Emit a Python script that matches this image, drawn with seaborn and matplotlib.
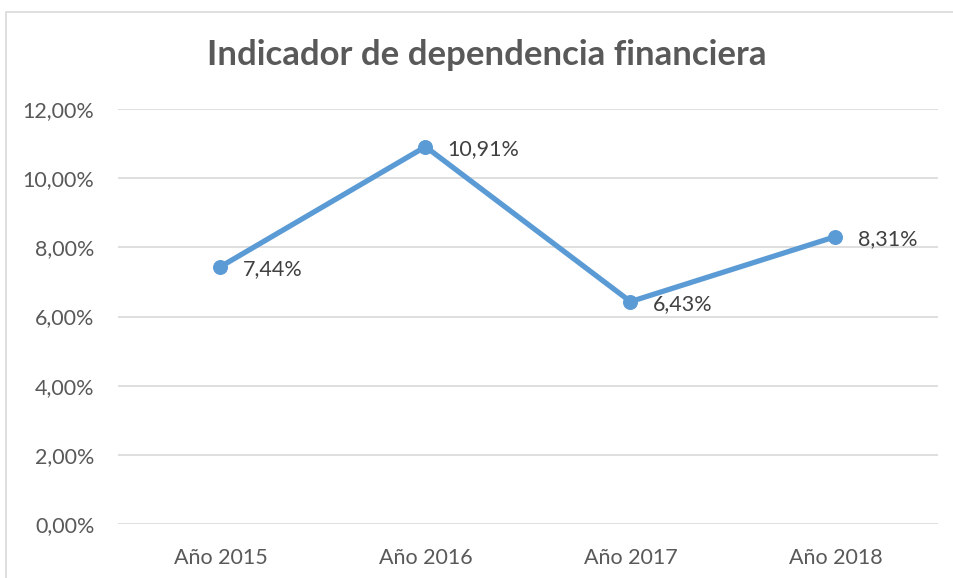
import matplotlib
matplotlib.use("Agg")
import matplotlib.pyplot as plt
from matplotlib.patches import Rectangle
from matplotlib.ticker import FuncFormatter
import seaborn as sns
import pandas as pd

# chart data
years = ["Año 2015", "Año 2016", "Año 2017", "Año 2018"]
ratios = [0.0744, 0.1091, 0.0643, 0.0831]
y_ticks = [0.0, 0.02, 0.04, 0.06, 0.08, 0.10, 0.12]

df = pd.DataFrame({"anio": years, "valor": ratios})

sns.set_theme(style="white")
plt.rcParams["font.family"] = ["Lato", "DejaVu Sans"]

W, H = 954, 578
fig = plt.figure(figsize=(W / 100, H / 100), dpi=100)
ax = fig.add_axes([118 / W, 1 - 524 / H, 820 / W, 415 / H])

# outer chart border (partly cut off in the original screenshot)
fig.patches.append(Rectangle((6.5 / W, -0.1), 2, 1 - 11.5 / H + 0.1, transform=fig.transFigure,
                             fill=False, edgecolor="#D9D9D9", linewidth=1.2))

blue = "#5B9BD5"
sns.lineplot(data=df, x="anio", y="valor", ax=ax, color=blue, linewidth=3.8,
             marker="o", markersize=10, markeredgecolor=blue, sort=False)

for i, v in enumerate(ratios):
    lbl = "{:.2f}%".format(v * 100).replace(".", ",")
    ax.annotate(lbl, xy=(i, v), xytext=(16, -2), textcoords="offset points",
                ha="left", va="center", fontsize=15.5, color="#404040")

ax.set_xlim(-0.5, 3.5)
ax.set_ylim(0, 0.12)
ax.set_yticks(y_ticks)
ax.yaxis.set_major_formatter(FuncFormatter(lambda v, p: "{:.2f}%".format(v * 100).replace(".", ",")))
ax.grid(axis="y", color="#D9D9D9", linewidth=1.2)
ax.grid(axis="x", visible=False)
for s in ax.spines.values():
    s.set_visible(False)
ax.tick_params(axis="both", length=0, labelsize=15.5, labelcolor="#595959")
ax.tick_params(axis="x", pad=17)
ax.tick_params(axis="y", pad=17)
ax.set_xlabel("")
ax.set_ylabel("")

fig.text(487 / W, 1 - 55 / H, "Indicador de dependencia financiera", ha="center", va="center",
         fontsize=25, fontweight="bold", color="#595959")

fig.savefig("out.png", dpi=100)
